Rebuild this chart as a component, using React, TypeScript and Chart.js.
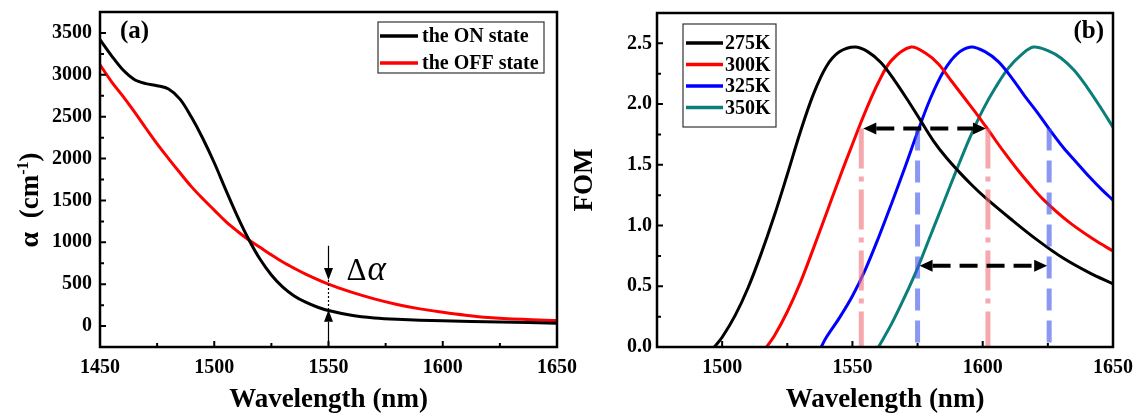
import { useEffect, useRef } from 'react';
import { Chart, registerables } from 'chart.js';

Chart.register(...registerables);

const SERIF = '"Liberation Serif", "Times New Roman", Times, serif';

// ---- (a) absorption coefficient of the two states ----
const ON_WL = [1450, 1455, 1460, 1465, 1470, 1475, 1480, 1485, 1490, 1495, 1500, 1505, 1510, 1515, 1520, 1525, 1530, 1535, 1540, 1545, 1550, 1560, 1570, 1580, 1600, 1625, 1650];
const ON_ALPHA = [3420, 3230, 3060, 2945, 2895, 2870, 2830, 2710, 2495, 2240, 1950, 1630, 1320, 1040, 800, 610, 465, 360, 285, 228, 185, 128, 96, 80, 62, 48, 35];
const OFF_WL = [1450, 1455, 1460, 1465, 1470, 1475, 1480, 1485, 1490, 1495, 1500, 1505, 1510, 1515, 1520, 1525, 1530, 1535, 1540, 1550, 1560, 1570, 1580, 1590, 1600, 1610, 1620, 1635, 1650];
const OFF_ALPHA = [3120, 2920, 2745, 2560, 2365, 2175, 2000, 1830, 1665, 1520, 1385, 1250, 1135, 1030, 940, 850, 765, 690, 620, 500, 405, 325, 258, 205, 165, 130, 103, 80, 65];

const A_X_TICKS = [1450, 1500, 1550, 1600, 1650];
const A_X_MINOR = [1475, 1525, 1575, 1625];
const A_Y_TICKS = [0, 500, 1000, 1500, 2000, 2500, 3000, 3500];
const A_Y_MINOR = [250, 750, 1250, 1750, 2250, 2750, 3250];

// Δα marker at 1550 nm
const DELTA_WL = 1550;
const DELTA_STEM_TOP = 960;
const DELTA_DOWN_TIP = 550;
const DELTA_UP_TIP = 195;

// ---- (b) figure of merit at four temperatures ----
const K275_WL = [1497, 1500, 1505, 1510, 1515, 1520, 1525, 1530, 1535, 1540, 1545, 1551, 1556, 1561, 1566, 1571, 1576, 1581, 1586, 1591, 1596, 1601, 1611, 1621, 1631, 1641, 1650];
const K275_FOM = [0, 0.08, 0.26, 0.49, 0.77, 1.08, 1.42, 1.77, 2.08, 2.31, 2.43, 2.47, 2.43, 2.34, 2.20, 2.04, 1.87, 1.70, 1.56, 1.44, 1.33, 1.23, 1.05, 0.88, 0.73, 0.61, 0.52];
const K300_WL = [1517, 1520, 1525, 1530, 1535, 1540, 1545, 1550, 1555, 1560, 1565, 1572.5, 1578, 1583, 1588, 1593, 1598, 1603, 1608, 1613, 1618, 1623, 1633, 1643, 1650];
const K300_FOM = [0, 0.09, 0.29, 0.53, 0.81, 1.10, 1.39, 1.67, 1.94, 2.18, 2.36, 2.47, 2.42, 2.33, 2.19, 2.05, 1.91, 1.76, 1.61, 1.47, 1.34, 1.22, 1.03, 0.88, 0.79];
const K325_WL = [1538, 1540, 1545, 1550, 1555, 1560, 1565, 1570, 1575, 1580, 1585, 1590, 1595.5, 1601, 1606, 1611, 1616, 1621, 1626, 1631, 1636, 1641, 1646, 1650];
const K325_FOM = [0, 0.08, 0.24, 0.42, 0.64, 0.90, 1.18, 1.47, 1.77, 2.05, 2.27, 2.41, 2.47, 2.43, 2.35, 2.22, 2.07, 1.93, 1.78, 1.64, 1.52, 1.40, 1.29, 1.21];
const K350_WL = [1560, 1565, 1570, 1575, 1580, 1585, 1590, 1595, 1600, 1605, 1610, 1615, 1619.5, 1625, 1630, 1635, 1640, 1645, 1650];
const K350_FOM = [0, 0.19, 0.41, 0.65, 0.92, 1.19, 1.46, 1.72, 1.95, 2.14, 2.30, 2.41, 2.47, 2.44, 2.38, 2.28, 2.14, 1.98, 1.81];

const B_X_TICKS = [1500, 1550, 1600, 1650];
const B_X_MINOR = [1525, 1575, 1625];
const B_Y_TICKS = [0, 0.5, 1.0, 1.5, 2.0, 2.5];
const B_Y_MINOR = [0.25, 0.75, 1.25, 1.75, 2.25];

// bandwidth markers: 300K (dash-dot) and 325K (dashed) at FOM = 1.8
const RED_MARK_WL = [1553.4, 1602];
const BLUE_MARK_WL = [1575, 1625.5];
const MARK_FOM = 1.8;
const ARROW_FOM = [1.8, 0.67];

const pts = (xs: number[], ys: number[]) => xs.map((x, i) => ({ x, y: ys[i] }));

const tickFont = { family: SERIF, size: 20, weight: 'bold' as const };
const titleFont = { family: SERIF, size: 27, weight: 'bold' as const };

function curve(label: string, color: string, data: { x: number; y: number }[]) {
  return {
    label,
    data,
    borderColor: color,
    backgroundColor: color,
    borderWidth: 3,
    pointRadius: 0,
    fill: false,
    tension: 0.35,
  };
}

function frameTicks(xMajor: number[], xMinor: number[], yMajor: number[], yMinor: number[]) {
  return {
    id: 'frameTicks',
    afterDraw(chart: any) {
      const { ctx, chartArea, scales } = chart;
      const { left, right, top, bottom } = chartArea;
      ctx.save();
      ctx.strokeStyle = '#000';
      ctx.lineWidth = 2;
      ctx.beginPath();
      const xt = (v: number, len: number) => {
        const px = scales.x.getPixelForValue(v);
        ctx.moveTo(px, bottom);
        ctx.lineTo(px, bottom - len);
      };
      const yt = (v: number, len: number) => {
        const py = scales.y.getPixelForValue(v);
        ctx.moveTo(left, py);
        ctx.lineTo(left + len, py);
      };
      xMajor.forEach((v) => xt(v, 6));
      xMinor.forEach((v) => xt(v, 4));
      yMajor.forEach((v) => yt(v, 6));
      yMinor.forEach((v) => yt(v, 4));
      ctx.stroke();
      ctx.lineWidth = 2.5;
      ctx.strokeRect(left, top, right - left, bottom - top);
      ctx.restore();
    },
  };
}

function boxLegend(box: { left: number; top: number; width: number; height: number; rows: number[]; line: [number, number]; textX: number }) {
  return {
    id: 'boxLegend',
    afterDraw(chart: any) {
      const { ctx } = chart;
      ctx.save();
      ctx.fillStyle = '#fff';
      ctx.fillRect(box.left, box.top, box.width, box.height);
      ctx.strokeStyle = '#333';
      ctx.lineWidth = 1.2;
      ctx.strokeRect(box.left, box.top, box.width, box.height);
      ctx.font = `bold 20px ${SERIF}`;
      ctx.textBaseline = 'middle';
      ctx.textAlign = 'left';
      chart.data.datasets.forEach((ds: any, i: number) => {
        const yy = box.rows[i];
        ctx.strokeStyle = ds.borderColor;
        ctx.lineWidth = 3.5;
        ctx.beginPath();
        ctx.moveTo(box.line[0], yy);
        ctx.lineTo(box.line[1], yy);
        ctx.stroke();
        ctx.fillStyle = '#000';
        ctx.fillText(ds.label, box.textX, yy + 1);
      });
      ctx.restore();
    },
  };
}

function panelTag(text: string, x: number, y: number, align: CanvasTextAlign) {
  return {
    id: 'panelTag',
    afterDraw(chart: any) {
      const { ctx } = chart;
      ctx.save();
      ctx.font = `bold 25px ${SERIF}`;
      ctx.fillStyle = '#000';
      ctx.textAlign = align;
      ctx.textBaseline = 'middle';
      ctx.fillText(text, x, y);
      ctx.restore();
    },
  };
}

function tri(ctx: CanvasRenderingContext2D, tx: number, ty: number, bx1: number, by1: number, bx2: number, by2: number) {
  ctx.beginPath();
  ctx.moveTo(tx, ty);
  ctx.lineTo(bx1, by1);
  ctx.lineTo(bx2, by2);
  ctx.closePath();
  ctx.fill();
}

const deltaAlpha = {
  id: 'deltaAlpha',
  afterDatasetsDraw(chart: any) {
    const { ctx, scales, chartArea } = chart;
    const px = scales.x.getPixelForValue(DELTA_WL);
    const yTop = scales.y.getPixelForValue(DELTA_STEM_TOP);
    const yDown = scales.y.getPixelForValue(DELTA_DOWN_TIP);
    const yUp = scales.y.getPixelForValue(DELTA_UP_TIP);
    const head = 12;
    const half = 4.5;
    ctx.save();
    ctx.strokeStyle = '#000';
    ctx.fillStyle = '#000';
    ctx.lineWidth = 1.2;
    ctx.beginPath();
    ctx.moveTo(px, yTop);
    ctx.lineTo(px, yDown - head);
    ctx.moveTo(px, yUp + head);
    ctx.lineTo(px, chartArea.bottom);
    ctx.stroke();
    ctx.setLineDash([2, 2]);
    ctx.beginPath();
    ctx.moveTo(px, yDown);
    ctx.lineTo(px, yUp);
    ctx.stroke();
    ctx.setLineDash([]);
    tri(ctx, px, yDown, px - half, yDown - head, px + half, yDown - head);
    tri(ctx, px, yUp, px - half, yUp + head, px + half, yUp + head);
    // Δα label
    ctx.textBaseline = 'alphabetic';
    ctx.textAlign = 'left';
    ctx.font = `31px ${SERIF}`;
    const lx = px + 18;
    ctx.fillText('Δ', lx, yDown);
    const dw = ctx.measureText('Δ').width;
    ctx.font = `italic 35px ${SERIF}`;
    ctx.fillText('α', lx + dw + 1, yDown);
    ctx.restore();
  },
};

const alphaTitle = {
  id: 'alphaTitle',
  afterDraw(chart: any) {
    const { ctx } = chart;
    const parts: [string, string, number][] = [
      ['α', `bold 28px ${SERIF}`, 0],
      ['  (cm', `bold 27px ${SERIF}`, 0],
      ['-1', `bold 16px ${SERIF}`, -10],
      [')', `bold 27px ${SERIF}`, 0],
    ];
    ctx.save();
    let total = 0;
    parts.forEach(([t, f]) => {
      ctx.font = f;
      total += ctx.measureText(t).width;
    });
    ctx.translate(38, 200);
    ctx.rotate(-Math.PI / 2);
    ctx.fillStyle = '#000';
    ctx.textBaseline = 'alphabetic';
    ctx.textAlign = 'left';
    let cx = -total / 2;
    parts.forEach(([t, f, dy]) => {
      ctx.font = f;
      ctx.fillText(t, cx, dy);
      cx += ctx.measureText(t).width;
    });
    ctx.restore();
  },
};

const bandMarks = {
  id: 'bandMarks',
  afterDatasetsDraw(chart: any) {
    const { ctx, scales } = chart;
    const { x, y } = scales;
    const y0 = y.getPixelForValue(0);
    const yTop = y.getPixelForValue(MARK_FOM);
    ctx.save();
    ctx.lineWidth = 5;
    ctx.strokeStyle = 'rgba(240, 110, 122, 0.6)';
    ctx.setLineDash([40, 8, 5, 8]);
    RED_MARK_WL.forEach((w) => {
      const px = x.getPixelForValue(w);
      ctx.beginPath();
      ctx.moveTo(px, yTop);
      ctx.lineTo(px, y0);
      ctx.stroke();
    });
    ctx.strokeStyle = 'rgba(60, 82, 235, 0.6)';
    ctx.setLineDash([22, 10]);
    BLUE_MARK_WL.forEach((w) => {
      const px = x.getPixelForValue(w);
      ctx.beginPath();
      ctx.moveTo(px, yTop);
      ctx.lineTo(px, y0);
      ctx.stroke();
    });
    // double-headed width arrows
    const spans = [RED_MARK_WL, BLUE_MARK_WL];
    ctx.fillStyle = '#000';
    ctx.strokeStyle = '#000';
    ctx.lineWidth = 4;
    ctx.setLineDash([18, 9]);
    const head = 13;
    const half = 6;
    spans.forEach((span, i) => {
      const py = y.getPixelForValue(ARROW_FOM[i]);
      const x1 = x.getPixelForValue(span[0]) + 2;
      const x2 = x.getPixelForValue(span[1]) - 2;
      ctx.beginPath();
      ctx.moveTo(x1 + head, py);
      ctx.lineTo(x2 - head, py);
      ctx.stroke();
      tri(ctx, x1, py, x1 + head, py - half, x1 + head, py + half);
      tri(ctx, x2, py, x2 - head, py - half, x2 - head, py + half);
    });
    ctx.restore();
  },
};

function xScale(min: number, max: number, ticks: number[]) {
  return {
    type: 'linear' as const,
    min,
    max,
    afterBuildTicks: (s: any) => {
      s.ticks = ticks.map((value) => ({ value }));
    },
    afterFit: (s: any) => {
      s.height = 70;
      s.paddingLeft = 0;
      s.paddingRight = 0;
    },
    grid: { display: false, drawTicks: false },
    border: { display: false },
    ticks: {
      font: tickFont,
      color: '#000',
      padding: 9,
      maxRotation: 0,
      autoSkip: false,
      callback: (v: any) => String(v),
    },
    title: {
      display: true,
      text: 'Wavelength (nm)',
      font: titleFont,
      color: '#000',
      padding: { top: 0, bottom: 1 },
    },
  };
}

function yScale(min: number, max: number, ticks: number[], width: number, pad: number, fmt: (v: number) => string) {
  return {
    type: 'linear' as const,
    min,
    max,
    afterBuildTicks: (s: any) => {
      s.ticks = ticks.map((value) => ({ value }));
    },
    afterFit: (s: any) => {
      s.width = width;
      s.paddingTop = 0;
      s.paddingBottom = 0;
    },
    grid: { display: false, drawTicks: false },
    border: { display: false },
    ticks: {
      font: tickFont,
      color: '#000',
      padding: pad,
      autoSkip: false,
      callback: (v: any) => fmt(Number(v)),
    },
  };
}

export default function App() {
  const leftRef = useRef<HTMLCanvasElement>(null);
  const rightRef = useRef<HTMLCanvasElement>(null);

  useEffect(() => {
    const chartA = new Chart(leftRef.current as HTMLCanvasElement, {
      type: 'line',
      data: {
        datasets: [
          curve('the ON state', '#000000', pts(ON_WL, ON_ALPHA)),
          curve('the OFF state', '#ff0000', pts(OFF_WL, OFF_ALPHA)),
        ],
      },
      options: {
        responsive: false,
        animation: false,
        events: [],
        layout: { padding: { top: 12, right: 43, left: 0, bottom: 0 } },
        plugins: { legend: { display: false }, tooltip: { enabled: false } },
        scales: {
          x: xScale(1450, 1650, A_X_TICKS),
          y: { ...yScale(-250, 3750, A_Y_TICKS, 100, 8, (v) => String(v)), title: { display: false } },
        },
      } as any,
      plugins: [
        deltaAlpha,
        frameTicks(A_X_TICKS, A_X_MINOR, A_Y_TICKS, A_Y_MINOR),
        boxLegend({ left: 378, top: 22, width: 166, height: 51, rows: [36, 63], line: [380, 418], textX: 422 }),
        panelTag('(a)', 120, 32, 'left'),
        alphaTitle,
      ],
    });

    const chartB = new Chart(rightRef.current as HTMLCanvasElement, {
      type: 'line',
      data: {
        datasets: [
          curve('275K', '#000000', pts(K275_WL, K275_FOM)),
          curve('300K', '#ff0000', pts(K300_WL, K300_FOM)),
          curve('325K', '#0000ff', pts(K325_WL, K325_FOM)),
          curve('350K', '#0a7f7a', pts(K350_WL, K350_FOM)),
        ],
      },
      options: {
        responsive: false,
        animation: false,
        events: [],
        layout: { padding: { top: 13, right: 25, left: 0, bottom: 0 } },
        plugins: { legend: { display: false }, tooltip: { enabled: false } },
        scales: {
          x: xScale(1475, 1650, B_X_TICKS),
          y: {
            ...yScale(0, 2.75, B_Y_TICKS, 88, 5, (v) => v.toFixed(1)),
            title: { display: true, text: 'FOM', font: titleFont, color: '#000', padding: { top: 0, bottom: 0 } },
          },
        },
      } as any,
      plugins: [
        bandMarks,
        frameTicks(B_X_TICKS, B_X_MINOR, B_Y_TICKS, B_Y_MINOR),
        boxLegend({ left: 114, top: 24, width: 93, height: 103, rows: [43, 64.5, 86, 107.5], line: [117, 154], textX: 156 }),
        panelTag('(b)', 535, 32, 'right'),
      ],
    });

    return () => {
      chartA.destroy();
      chartB.destroy();
    };
  }, []);

  return (
    <div style={{ position: 'absolute', left: 0, top: 0, width: 1138, height: 417, background: '#fff', overflow: 'hidden' }}>
      <canvas ref={leftRef} width={600} height={417} style={{ position: 'absolute', left: 0, top: 0, width: 600, height: 417 }} />
      <canvas ref={rightRef} width={569} height={417} style={{ position: 'absolute', left: 569, top: 0, width: 569, height: 417 }} />
    </div>
  );
}
